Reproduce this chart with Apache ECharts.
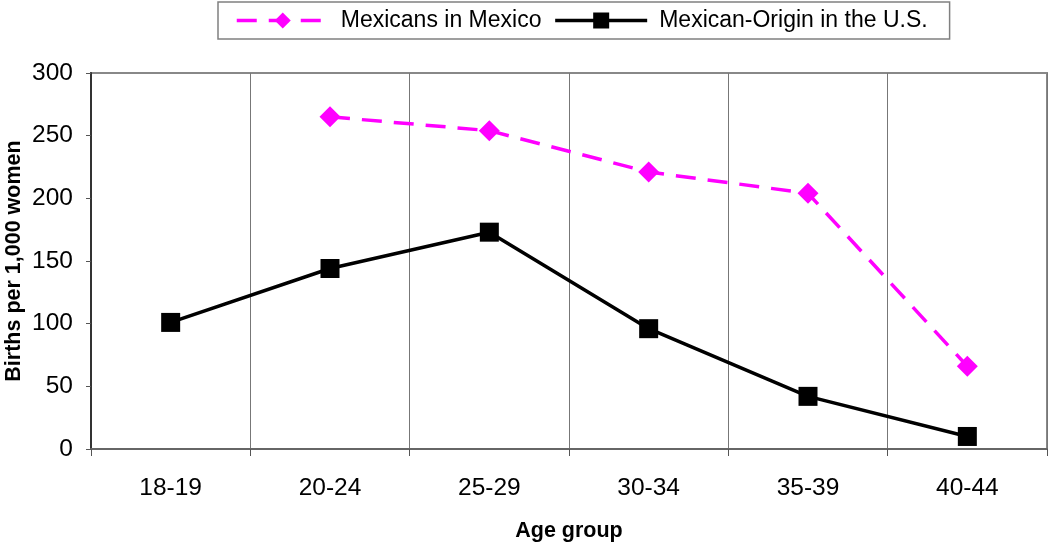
<!DOCTYPE html>
<html><head><meta charset="utf-8">
<script src="https://cdn.jsdelivr.net/npm/echarts@6/dist/echarts.min.js"></script>
<style>html,body{margin:0;padding:0;background:#fff}#c{width:1050px;height:546px}</style>
</head><body><div id="c"></div>
<script>
var categories = ['18-19','20-24','25-29','30-34','35-39','40-44'];
var mexicoValues = [null, 265, 254, 221, 204, 66];
var usValues = [101, 144, 173, 96, 42, 10];
var seriesNames = ['Mexicans in Mexico', 'Mexican-Origin in the U.S.'];

var chart = echarts.init(document.getElementById('c'));
var font = 'Liberation Sans, Arial, sans-serif';
chart.setOption({
  animation: false,
  backgroundColor: '#fff',
  legend: {
    data: seriesNames,
    left: 218, top: 2,
    padding: [7, 22, 7, 17],
    itemGap: 12,
    itemWidth: 92, itemHeight: 20,
    borderColor: '#808080', borderWidth: 1.5,
    lineStyle: {width: 3.5},
    textStyle: {fontFamily: font, fontSize: 23, color: '#000', padding: [0, 0, 0, 7]}
  },
  grid: {left: 91, right: 3, top: 73, bottom: 97, show: true, borderColor: '#888', borderWidth: 2, outerBoundsMode: 'none', containLabel: false},
  xAxis: {
    type: 'category', data: categories, boundaryGap: true,
    name: 'Age group', nameLocation: 'middle', nameGap: 71,
    nameTextStyle: {fontFamily: font, fontSize: 21.5, fontWeight: 'bold', color: '#000'},
    axisLine: {lineStyle: {color: '#666', width: 2}},
    axisTick: {show: true, length: 7, lineStyle: {color: '#555', width: 1}},
    axisLabel: {fontFamily: font, fontSize: 24.5, color: '#000', margin: 27},
    splitLine: {show: true, lineStyle: {color: '#777', width: 1}}
  },
  yAxis: {
    type: 'value', min: 0, max: 300, interval: 50,
    name: 'Births per 1,000 women', nameLocation: 'middle', nameGap: 66,
    nameMoveOverlap: false,
    nameTextStyle: {fontFamily: font, fontSize: 21.5, fontWeight: 'bold', color: '#000'},
    axisLine: {show: true, lineStyle: {color: '#333', width: 2}},
    axisTick: {show: true, length: 5, lineStyle: {color: '#555'}},
    axisLabel: {fontFamily: font, fontSize: 24.5, color: '#000', margin: 18},
    splitLine: {show: false}
  },
  series: [
    {
      name: seriesNames[0], type: 'line', data: mexicoValues,
      symbol: 'diamond', symbolSize: 21,
      itemStyle: {color: '#FF00FF'},
      lineStyle: {color: '#FF00FF', width: 3.5, type: [20, 12]},
      connectNulls: false
    },
    {
      name: seriesNames[1], type: 'line', data: usValues,
      symbol: 'rect', symbolSize: 19,
      itemStyle: {color: '#000'},
      lineStyle: {color: '#000', width: 3.5}
    }
  ]
});
</script></body></html>
